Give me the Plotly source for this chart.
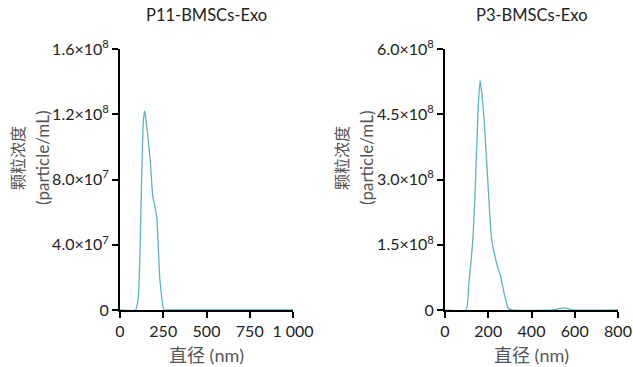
import plotly.graph_objects as go

# Left panel: P11-BMSCs-Exo
p11_x = [0, 90, 106, 125, 135, 143, 150, 173, 189, 212, 231, 254, 270, 500, 750, 1000]
p11_y = [0, 0, 0.08e8, 0.80e8, 1.16e8, 1.22e8, 1.17e8, 0.94e8, 0.705e8, 0.572e8, 0.18e8, 0, 0, 0, 0, 0]
# Right panel: P3-BMSCs-Exo
p3_x = [0, 97, 110, 128, 139, 152, 162, 172, 185, 205, 216, 239, 257, 277, 293, 310, 500, 525, 547, 570, 590, 800]
p3_y = [0, 0, 0.6e8, 1.57e8, 2.68e8, 4.5e8, 5.27e8, 4.9e8, 4.06e8, 2.37e8, 1.61e8, 1.07e8, 0.77e8, 0.31e8, 0.04e8, 0, 0, 0.03e8, 0.05e8, 0.03e8, 0, 0]

p11_yticks = [0, 4e7, 8e7, 1.2e8, 1.6e8]
p11_yticktext = ["0", "4.0×10<sup>7</sup>", "8.0×10<sup>7</sup>", "1.2×10<sup>8</sup>", "1.6×10<sup>8</sup>"]
p11_xticks = [0, 250, 500, 750, 1000]
p11_xticktext = ["0", "250", "500", "750", "1 000"]

p3_yticks = [0, 1.5e8, 3e8, 4.5e8, 6e8]
p3_yticktext = ["0", "1.5×10<sup>8</sup>", "3.0×10<sup>8</sup>", "4.5×10<sup>8</sup>", "6.0×10<sup>8</sup>"]
p3_xticks = [0, 200, 400, 600, 800]
p3_xticktext = ["0", "200", "400", "600", "800"]

titles = ["P11-BMSCs-Exo", "P3-BMSCs-Exo"]
ytitle_cn = "颗粒浓度"
ytitle_en = "(particle/mL)"
xtitle = "直径 (nm)"

line_color = "#58b5bf"
font_family = "Lato, Noto Sans CJK SC, sans-serif"
W, H = 633, 367


def px(x):
    return x / W


def py(y):
    return 1 - y / H


fig = go.Figure()
fig.add_trace(go.Scatter(x=p11_x, y=p11_y, mode="lines", line=dict(color=line_color, width=1.3, shape="spline", smoothing=0.5),
                         xaxis="x", yaxis="y", showlegend=False, cliponaxis=False))
fig.add_trace(go.Scatter(x=p3_x, y=p3_y, mode="lines", line=dict(color=line_color, width=1.3, shape="spline", smoothing=0.5),
                         xaxis="x2", yaxis="y2", showlegend=False, cliponaxis=False))

ydom = [py(310), py(49)]
common_axis = dict(showline=True, linecolor="black", linewidth=2, ticks="outside", ticklen=6, tickwidth=2,
                   tickcolor="black", showgrid=False, zeroline=False, automargin=False, layer="below traces",
                   tickfont=dict(size=16, color="#222"))

annos = []
for cx, t in [(206.5, titles[0]), (531.5, titles[1])]:
    annos.append(dict(text=t, x=px(cx), y=py(15), font=dict(size=16.5, color="#222")))
    annos.append(dict(text=xtitle, x=px(cx), y=py(355), font=dict(size=18, color="#555")))
for x1, x2 in [(18, 43), (342, 367)]:
    annos.append(dict(text=ytitle_cn, x=px(x1), y=py(158), textangle=-90, font=dict(size=16, color="#555")))
    annos.append(dict(text=ytitle_en, x=px(x2), y=py(158), textangle=-90, font=dict(size=17, color="#555")))
for a in annos:
    a.update(xref="paper", yref="paper", showarrow=False, xanchor="center", yanchor="middle")

fig.update_layout(
    width=W, height=H,
    margin=dict(l=0, r=0, t=0, b=0),
    paper_bgcolor="white", plot_bgcolor="white",
    font=dict(family=font_family, color="#222"),
    xaxis=dict(domain=[px(120), px(293)], range=[0, 1000], tickvals=p11_xticks, ticktext=p11_xticktext,
               anchor="y", **common_axis),
    yaxis=dict(domain=ydom, range=[0, 1.6e8], tickvals=p11_yticks, ticktext=p11_yticktext, anchor="x", **common_axis),
    xaxis2=dict(domain=[px(445), px(618)], range=[0, 800], tickvals=p3_xticks, ticktext=p3_xticktext,
                anchor="y2", **common_axis),
    yaxis2=dict(domain=ydom, range=[0, 6e8], tickvals=p3_yticks, ticktext=p3_yticktext, anchor="x2", **common_axis),
    annotations=annos,
)

fig.write_html("out.html", config={"displayModeBar": False},
               post_script="document.body.style.margin='0';document.body.style.overflow='hidden';")
